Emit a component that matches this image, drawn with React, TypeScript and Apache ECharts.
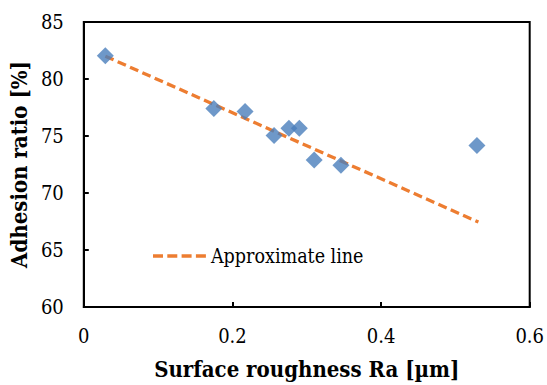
import React, { useEffect, useRef } from "react";
import * as echarts from "echarts";

// Scatter data: surface roughness Ra [µm] vs adhesion ratio [%]
const roughness = [0.029, 0.175, 0.217, 0.256, 0.276, 0.29, 0.31, 0.346, 0.529];
const adhesion = [82.05, 77.42, 77.14, 75.04, 75.68, 75.68, 72.9, 72.43, 74.16];

// Approximate (trend) line end points
const trendX = [0.029, 0.531];
const trendY = [82.0, 67.45];

const legendLabel = "Approximate line";
const xTitle = "Surface roughness Ra [µm]";
const yTitle = "Adhesion ratio [%]";

const FONT = "DejaVu Serif Condensed, DejaVu Serif";

// dashed-line legend icon (4 dashes)
const DASH_ICON =
  "path://M0,0H10V3.3H0Z M14.3,0H24.3V3.3H14.3Z M28.6,0H38.6V3.3H28.6Z M42.9,0H52.9V3.3H42.9Z";

export default function App() {
  const ref = useRef<HTMLDivElement>(null);

  useEffect(() => {
    if (!ref.current) return;
    const chart = echarts.init(ref.current, undefined, { renderer: "svg" });
    const scatterData = roughness.map((x, i) => [x, adhesion[i]]);
    const trendData = trendX.map((x, i) => [x, trendY[i]]);
    chart.setOption({
      animation: false,
      backgroundColor: "#ffffff",
      textStyle: { fontFamily: FONT, color: "#000" },
      grid: {
        left: 83,
        right: 16,
        top: 22,
        bottom: 75.5,
        show: true,
        borderColor: "#000",
        borderWidth: 2,
        backgroundColor: "transparent",
      },
      legend: {
        data: [{ name: legendLabel, icon: DASH_ICON }],
        left: 153,
        top: 246,
        padding: 0,
        itemWidth: 53,
        itemHeight: 3.3,
        itemStyle: { color: "#ED7D31" },
        textStyle: { fontFamily: FONT, fontSize: 19.5, color: "#000" },
      },
      xAxis: {
        type: "value",
        min: 0,
        max: 0.6,
        interval: 0.2,
        name: xTitle,
        nameLocation: "middle",
        nameGap: 51,
        nameTextStyle: { fontFamily: FONT, fontSize: 22, fontWeight: "bold", color: "#000" },
        axisLine: { show: true, lineStyle: { color: "#000", width: 2 } },
        axisTick: { show: true, inside: true, length: 5, lineStyle: { color: "#000", width: 2 } },
        axisLabel: { margin: 18.5, fontFamily: FONT, fontSize: 20, color: "#000" },
        splitLine: { show: false },
      },
      yAxis: {
        type: "value",
        min: 60,
        max: 85,
        interval: 5,
        name: yTitle,
        nameLocation: "middle",
        nameGap: 50,
        nameTextStyle: { fontFamily: FONT, fontSize: 22, fontWeight: "bold", color: "#000" },
        axisLine: { show: true, lineStyle: { color: "#000", width: 2 } },
        axisTick: { show: true, inside: true, length: 5, lineStyle: { color: "#000", width: 2 } },
        axisLabel: { margin: 20, fontFamily: FONT, fontSize: 20, color: "#000" },
        splitLine: { show: false },
      },
      series: [
        {
          name: legendLabel,
          type: "line",
          data: trendData,
          symbol: "none",
          z: 2,
          lineStyle: { color: "#ED7D31", width: 3.3, type: [9, 4.5] },
          itemStyle: { color: "#ED7D31" },
        },
        {
          name: "Measured",
          type: "scatter",
          data: scatterData,
          symbol: "diamond",
          symbolSize: 17,
          z: 3,
          itemStyle: { color: "#4A7EBB" },
        },
      ],
    });
    return () => chart.dispose();
  }, []);

  return (
    <div
      ref={ref}
      style={{ position: "absolute", left: 0, top: 0, width: 547, height: 385 }}
    />
  );
}
